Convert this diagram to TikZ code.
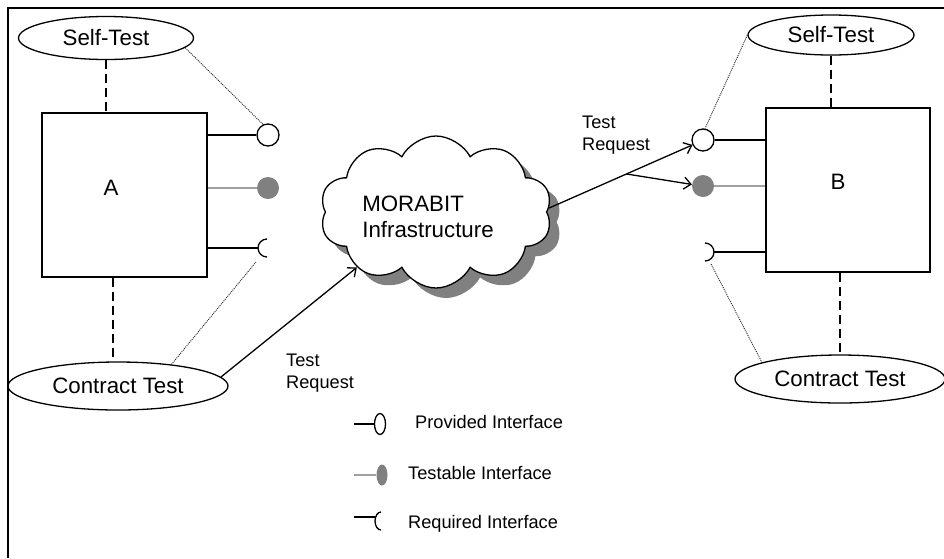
\documentclass[tikz,border=0pt]{standalone}
\usepackage{fontspec}
\setmainfont{Liberation Sans}
\usetikzlibrary{shapes.geometric,shapes.symbols,shadows,arrows.meta,calc}
\definecolor{ifgray}{RGB}{128,128,128}
\definecolor{tgray}{RGB}{160,160,160}

\begin{document}
\begin{tikzpicture}[x=1pt,y=-1pt,
  every node/.style={inner sep=0pt},
  big/.style={font=\fontsize{22.3}{26}\selectfont},
  small/.style={font=\fontsize{18.2}{22}\selectfont},
  ln/.style={line width=1.3pt},
  oval/.style={ellipse, draw, line width=1.3pt, big},
  comp/.style={rectangle, draw, line width=1.3pt, minimum width=165pt, minimum height=164pt},
  prov/.style={circle, draw, line width=1.3pt, fill=white, minimum size=22pt},
  testable/.style={circle, fill=ifgray, minimum size=22pt},
  tline/.style={line width=1.3pt, draw=tgray},
  dep/.style={line width=1.3pt, dash pattern=on 9pt off 5pt},
  hint/.style={line width=0.9pt, draw=black!85, dash pattern=on 1pt off 1pt},
  req/.style={line width=1.3pt},
  msg/.style={line width=1.3pt, -{Straight Barb[length=7pt,width=12pt]}},
]
\useasboundingbox (0,0) rectangle (944,558);

% frame (top and left edges only)
\draw[line width=2.5pt] (8,558) -- (8,8) -- (944,8);

% ---------- component A ----------
\node[oval, minimum width=175pt, minimum height=43pt] (stA) at (106,38) {Self-Test};
\node[comp] (A) at (124.5,195) {};
\node[big] (labA) at (111,188) {A};
\node[prov] (aProv) at (268,135) {};
\node[testable] (aTest) at (268,188) {};
\coordinate (aReq) at (258,248);
\coordinate (aReqHint) at (256,262);
\node[oval, minimum width=220pt, minimum height=48pt] (ctA) at (118,386) {Contract Test};
\coordinate (ctAtop) at ([xshift=-5pt]ctA.north);

\draw[ln] (A.east |- aProv) -- (aProv);
\draw[tline] (A.east |- aTest) -- (aTest);
\draw[req] (A.east |- aReq) -- (aReq);
\draw[req] ([shift={(9,9)}]aReq) arc[start angle=90, end angle=270, radius=9];

\draw[dep] (stA.south) -- (stA.south |- A.north);
\draw[dep] (ctAtop |- A.south) -- (ctAtop);
\draw[hint] (stA.-7) -- (aProv.115);
\draw[hint] (ctA.22) -- (aReqHint);

% ---------- component B ----------
\node[oval, minimum width=166pt, minimum height=40pt] (stB) at (831,35) {Self-Test};
\node[comp, minimum width=164pt] (B) at (848,190) {};
\node[big] (labB) at (838,182) {B};
\node[prov] (bProv) at (703,140) {};
\node[testable] (bTest) at (703,186) {};
\coordinate (bReq) at (714,252);
\coordinate (bReqHint) at (711,264);
\node[oval, minimum width=210pt, minimum height=48pt] (ctB) at (840,379) {Contract Test};

\draw[ln] (bProv) -- (bProv -| B.west);
\draw[tline] (bTest) -- (bTest -| B.west);
\draw[req] (bReq) -- (bReq -| B.west);
\draw[req] ([shift={(-9,-9)}]bReq) arc[start angle=270, end angle=450, radius=9];

\draw[dep] (stB.south) -- (stB.south |- B.north);
\draw[dep] (ctB.north |- B.south) -- (ctB.north);
\draw[hint] (stB.180) -- (bProv.80);
\draw[hint] (bReqHint) -- (ctB.168);

% ---------- infrastructure ----------
\node[cloud, draw, line width=1.3pt, fill=white, cloud puffs=10, cloud puff arc=125,
      cloud ignores aspect, minimum width=232pt, minimum height=152pt,
      drop shadow={shadow xshift=10pt, shadow yshift=-10pt, fill=ifgray, opacity=1}]
      (cloud) at (436,212) {};
\node[big, align=left] (infra) at (428,217) {MORABIT\\Infrastructure};

\draw[msg] (ctA.5) -- (cloud.215);
\draw[msg] (cloud.2) -- (bProv.205);
\coordinate (fork) at ($(cloud.2)!0.54!(bProv.205)$);
\draw[msg] (fork) -- (bTest.172);

\node[small, align=left, anchor=west] (trA) at (286,373) {Test\\Request};
\node[small, align=left, anchor=west] (trB) at (582,135) {Test\\Request};

% ---------- legend ----------
\coordinate (lgProvEnd) at (354,424);
\node[ellipse, draw, line width=1.3pt, minimum width=11pt, minimum height=21pt] (lgProv) at (380,424) {};
\draw[ln] (lgProvEnd) -- (lgProv);
\node[small, anchor=west] (lgProvTxt) at (415,422) {Provided Interface};

\coordinate (lgTestEnd) at (354,475);
\node[ellipse, fill=ifgray, minimum width=11pt, minimum height=21pt] (lgTest) at (382,475) {};
\draw[tline] (lgTestEnd) -- (lgTest);
\node[small, anchor=west] (lgTestTxt) at (408,473) {Testable Interface};

\coordinate (lgReqEnd) at (354,517);
\coordinate (lgReq) at (375,517);
\coordinate (lgReqArc) at (375,521);
\draw[ln] (lgReqEnd) -- (lgReq);
\draw[req] ([shift={(6,9)}]lgReqArc) arc[start angle=90, end angle=270, x radius=6, y radius=9];
\node[small, anchor=west] (lgReqTxt) at (408,524) {Required Interface};
\end{tikzpicture}
\end{document}
